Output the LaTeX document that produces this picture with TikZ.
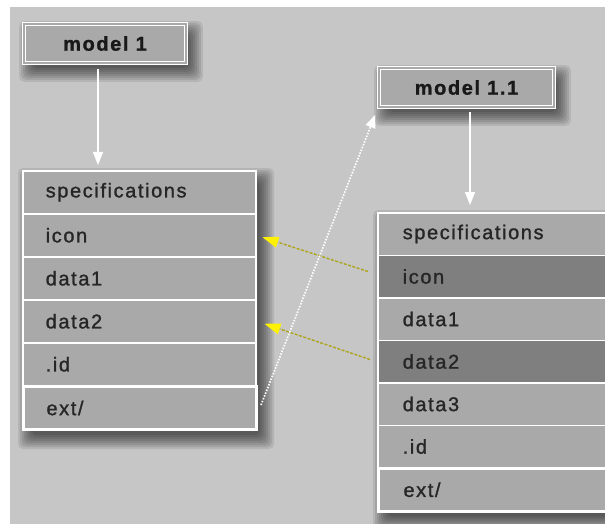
\documentclass[tikz,border=0pt]{standalone}
\usepackage{fontspec}
\setmainfont{Liberation Sans}
\newfontfamily\cellfont[LetterSpace=8,FakeBold=1.2]{Liberation Sans}
\usetikzlibrary{arrows.meta,backgrounds}

\definecolor{bggray}{HTML}{C6C6C6}
\definecolor{cellgray}{HTML}{A9A9A9}
\definecolor{darkcell}{HTML}{7F7F7F}
\definecolor{linkyellow}{HTML}{ADA51C}

% soft shadow behind a box, given its north west and south east corners
\newcommand{\softshadow}[2]{%
	\foreach \e in {0,2,...,14}
		\fill[black,opacity=.09,rounded corners=5pt]
			([shift={(10-\e,12-\e)}]#1) rectangle ([shift={(2+\e,4+\e)}]#2);
}

\begin{document}
\begin{tikzpicture}[x=1pt,y=-1pt,
		modelbox/.style={draw=white,double=cellgray,double distance=1.2pt,line width=1.6pt,fill=cellgray,
			minimum height=39pt,inner sep=0pt,text=black!90,font=\cellfont\bfseries\fontsize{20pt}{22pt}\selectfont},
		cell/.style={draw=white,line width=1.5pt,fill=cellgray,minimum height=43pt,inner xsep=23pt,
			text width=187pt,align=left,text=black!85,font=\cellfont\fontsize{20pt}{22pt}\selectfont},
		rcell/.style={cell,minimum height=42.5pt,inner xsep=25pt,text width=210pt},
		extcell/.style={line width=3pt},
		whitearrow/.style={draw=white,line width=1.5pt,-{Triangle[width=10pt,length=13pt]}},
		linkarrow/.style={draw=linkyellow,line width=1.4pt,dash pattern=on 3pt off 1.5pt,
			-{Triangle[width=11pt,length=16pt,color=yellow]}},
		extarrow/.style={draw=white,line width=1.7pt,dash pattern=on 1.5pt off 1.5pt,
			-{Triangle[width=10pt,length=13pt]}}]
	\useasboundingbox (0,0) rectangle (605,524);

	% models
	\node[modelbox,minimum width=162pt] (m1) at (105,43.5) {model 1};
	\node[modelbox,minimum width=175pt] (m11) at (466.5,87.5) {model 1.1};

	% model 1 table
	\node[cell,anchor=north west] (l1) at (22,170) {specifications};
	\node[cell,anchor=north west] (l2) at (22,213) {icon};
	\node[cell,anchor=north west] (l3) at (22,256) {data1};
	\node[cell,anchor=north west] (l4) at (22,299) {data2};
	\node[cell,anchor=north west] (l5) at (22,342) {.id};
	\node[cell,extcell,anchor=north west] (l6) at (22,385) {ext/};

	% model 1.1 table
	\node[rcell,anchor=north west] (r1) at (377,212) {specifications};
	\node[rcell,fill=darkcell,anchor=north west] (r2) at (377,254.5) {icon};
	\node[rcell,anchor=north west] (r3) at (377,297) {data1};
	\node[rcell,fill=darkcell,anchor=north west] (r4) at (377,339.5) {data2};
	\node[rcell,anchor=north west] (r5) at (377,382) {data3};
	\node[rcell,anchor=north west] (r6) at (377,424.5) {.id};
	\node[rcell,extcell,anchor=north west] (r7) at (377,467) {ext/};

	% arrows
	\draw[whitearrow] ([xshift=-7pt,yshift=-5pt]m1.south) -- ([xshift=-7pt,yshift=5pt]m1.south |- l1.north);
	\draw[whitearrow] ([xshift=3.5pt,yshift=-4pt]m11.south) -- ([xshift=3.5pt,yshift=7pt]m11.south |- r1.north);
	\draw[linkarrow] ([xshift=-9pt,yshift=5pt]r2.west) -- ([xshift=6pt,yshift=-2pt]l2.east);
	\draw[linkarrow] ([xshift=-7pt,yshift=2pt]r4.west) -- ([xshift=8pt,yshift=-2.5pt]l4.east);
	\draw[extarrow] ([xshift=3pt,yshift=3pt]l6.east) -- ([xshift=-3pt,yshift=-7pt]m11.south west);

	\begin{scope}[on background layer]
		\fill[white] (0,0) rectangle (605,524);
		\fill[bggray] (10,7) rectangle (605,524);
		\softshadow{m1.north west}{m1.south east}
		\softshadow{m11.north west}{m11.south east}
		\softshadow{l1.north west}{l6.south east}
		\softshadow{r1.north west}{r7.south east}
	\end{scope}
\end{tikzpicture}
\end{document}
